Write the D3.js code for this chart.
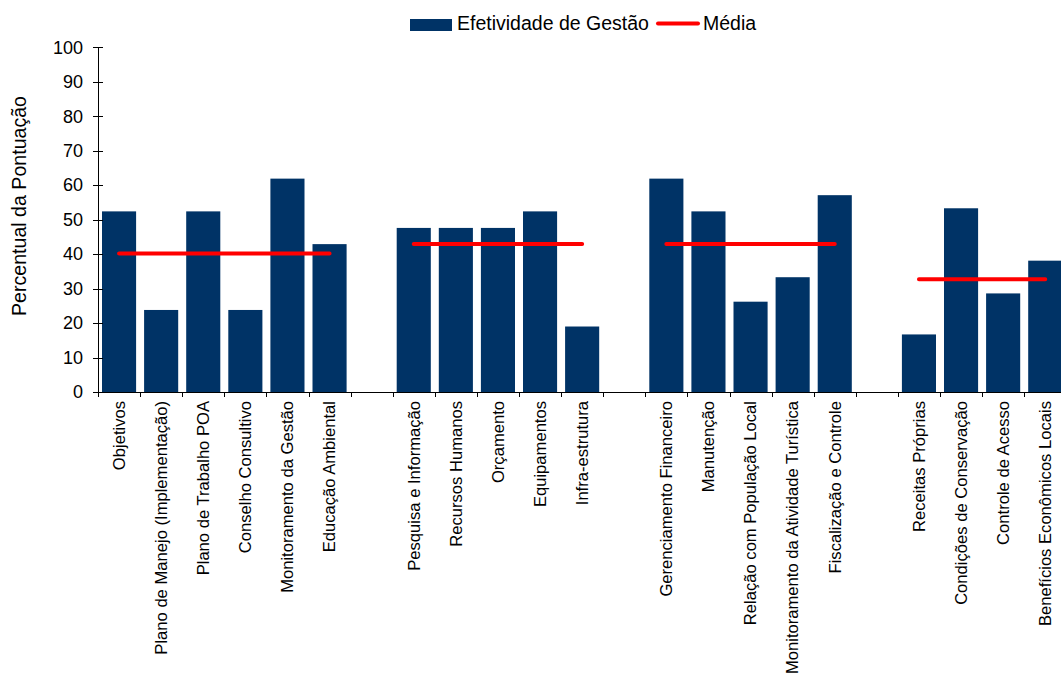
<!DOCTYPE html>
<html>
<head>
<meta charset="utf-8">
<script src="https://cdn.jsdelivr.net/npm/d3@7"></script>
<style>
  body { margin: 0; background: #fff; }
  svg { display: block; font-family: "Liberation Sans", Arial, sans-serif; }
  .axis path, .axis line { stroke: #000; shape-rendering: crispEdges; }
  .axis text { fill: #000; }
</style>
</head>
<body>
<svg id="chart"></svg>
<script>
const WIDTH = 1061;
const HEIGHT = 677;
const MARGIN = { top: 47.3, left: 98, bottom: 285 };
const PLOT_W = 968.3; // 23 slots, last one cut by the edge
const BAR_COLOR = '#003366';
const LINE_COLOR = '#ff0000';

// '' = empty slot between the groups
const categories = [
  'Objetivos', 'Plano de Manejo (Implementação)', 'Plano de Trabalho POA', 'Conselho Consultivo',
  'Monitoramento da Gestão', 'Educação Ambiental', '',
  'Pesquisa e Informação', 'Recursos Humanos', 'Orçamento', 'Equipamentos', 'Infra-estrutura', '',
  'Gerenciamento Financeiro', 'Manutenção', 'Relação com População Local',
  'Monitoramento da Atividade Turística', 'Fiscalização e Controle', '',
  'Receitas Próprias', 'Condições de Conservação', 'Controle de Acesso', 'Benefícios Econômicos Locais'
];
const gestao = [
  52.4, 23.8, 52.4, 23.8, 61.9, 42.9, null,
  47.6, 47.6, 47.6, 52.4, 19.0, null,
  61.9, 52.4, 26.2, 33.3, 57.1, null,
  16.7, 53.3, 28.6, 38.1
];
const media = [
  40.2, 40.2, 40.2, 40.2, 40.2, 40.2, null,
  42.9, 42.9, 42.9, 42.9, 42.9, null,
  42.9, 42.9, 42.9, 42.9, 42.9, null,
  32.7, 32.7, 32.7, 32.7
];
const yTicks = [0, 10, 20, 30, 40, 50, 60, 70, 80, 90, 100];
const legendLabels = ['Efetividade de Gestão', 'Média'];
const yTitle = 'Percentual da Pontuação';

const $svg = d3.select('#chart').attr('width', WIDTH).attr('height', HEIGHT);
const plotH = HEIGHT - MARGIN.bottom - MARGIN.top;
const idx = d3.range(categories.length);

const scaleX = d3.scaleBand()
  .domain(idx)
  .range([MARGIN.left, MARGIN.left + PLOT_W])
  .paddingInner(0.19)
  .paddingOuter(0.095);

const scaleSlot = d3.scaleLinear()
  .domain([0, categories.length])
  .range([MARGIN.left, MARGIN.left + PLOT_W]);

const scaleY = d3.scaleLinear()
  .domain([0, 100])
  .range([MARGIN.top + plotH, MARGIN.top]);

const y0 = scaleY(0);

// BARS
$svg.append('g')
  .selectAll('rect')
  .data(idx.filter(i => gestao[i] != null))
  .join('rect')
  .attr('x', i => scaleX(i))
  .attr('y', i => scaleY(gestao[i]))
  .attr('width', scaleX.bandwidth())
  .attr('height', i => y0 - scaleY(gestao[i]))
  .attr('fill', BAR_COLOR);

// Y AXIS (ticks cross the line)
const $gy = $svg.append('g')
  .attr('class', 'axis axis--y')
  .attr('transform', `translate(${MARGIN.left},0)`)
  .call(d3.axisLeft(scaleY).tickValues(yTicks).tickSize(5).tickSizeOuter(0).tickPadding(10));
$gy.selectAll('.tick line').attr('x1', 5);
$gy.selectAll('.tick text').style('font-size', '18px');

// X AXIS: tick marks at the slot edges
$svg.append('g')
  .attr('class', 'axis axis--x')
  .attr('transform', `translate(0,${y0})`)
  .call(d3.axisBottom(scaleSlot).tickValues(d3.range(categories.length + 1)).tickSize(5).tickSizeOuter(0).tickFormat(''));

// category labels, rotated
$svg.append('g')
  .selectAll('text')
  .data(idx.filter(i => categories[i] !== ''))
  .join('text')
  .attr('transform', i => `translate(${scaleX(i) + scaleX.bandwidth() / 2},${y0 + 9}) rotate(-90)`)
  .attr('text-anchor', 'end')
  .attr('dy', '0.35em')
  .style('font-size', '16.6px')
  .text(i => categories[i]);

// MÉDIA lines
const line = d3.line()
  .defined(i => media[i] != null)
  .x(i => scaleX(i) + scaleX.bandwidth() / 2)
  .y(i => scaleY(media[i]));

$svg.append('path')
  .datum(idx)
  .attr('d', line)
  .attr('fill', 'none')
  .attr('stroke', LINE_COLOR)
  .attr('stroke-width', 4)
  .attr('stroke-linecap', 'round');

// Y TITLE
$svg.append('text')
  .attr('transform', `translate(26,206) rotate(-90)`)
  .attr('text-anchor', 'middle')
  .style('font-size', '19.6px')
  .text(yTitle);

// LEGEND
const $legend = $svg.append('g').style('font-size', '19.5px');
$legend.append('rect')
  .attr('x', 410).attr('y', 19).attr('width', 42).attr('height', 12)
  .attr('fill', BAR_COLOR);
$legend.append('text').attr('x', 457).attr('y', 29.5).text(legendLabels[0]);
$legend.append('line')
  .attr('x1', 658).attr('x2', 698).attr('y1', 23.5).attr('y2', 23.5)
  .attr('stroke', LINE_COLOR).attr('stroke-width', 4).attr('stroke-linecap', 'round');
$legend.append('text').attr('x', 703).attr('y', 29.5).text(legendLabels[1]);
</script>
</body>
</html>
